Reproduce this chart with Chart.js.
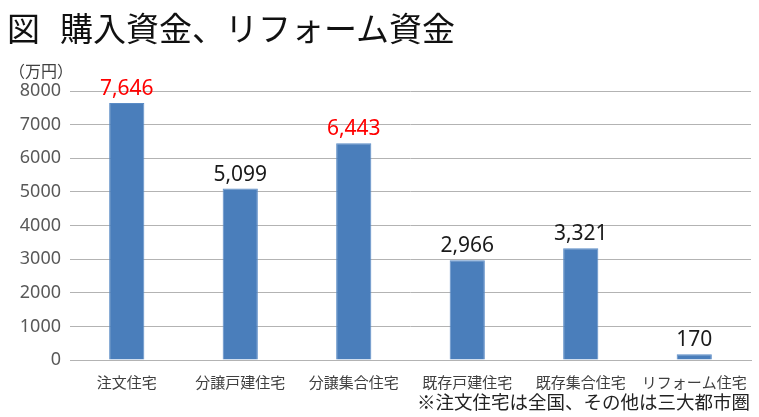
<!DOCTYPE html>
<html lang="ja">
<head>
<meta charset="UTF-8">
<title>図 購入資金、リフォーム資金</title>
<script src="https://cdn.jsdelivr.net/npm/chart.js"></script>
<style>
  html, body { margin: 0; padding: 0; background: #fff; }
  body { width: 759px; height: 417px; position: relative; overflow: hidden;
         font-family: "Noto Sans CJK JP", "Noto Sans", sans-serif; }
  #title { position: absolute; left: 7px; top: 3px; font-size: 33px; color: #111; white-space: nowrap; }
  #title .mark { margin-right: 20px; }
  #unit { position: absolute; left: 9px; top: 58px; font-size: 16px; color: #404040; }
  #note { position: absolute; right: 9px; top: 388px; font-size: 18.5px; color: #222; white-space: nowrap; }
  #wrap { position: absolute; left: 0; top: 0; width: 759px; height: 417px; }
</style>
</head>
<body>
<div id="wrap"><canvas id="chart"></canvas></div>
<div id="title"><span class="mark">図</span>購入資金、リフォーム資金</div>
<div id="unit">（万円）</div>
<div id="note">※注文住宅は全国、その他は三大都市圏</div>

<script>
    // データ
    const categories = ['注文住宅', '分譲戸建住宅', '分譲集合住宅', '既存戸建住宅', '既存集合住宅', 'リフォーム住宅'];
    const values = [7646, 5099, 6443, 2966, 3321, 170];
    const yTicks = [0, 1000, 2000, 3000, 4000, 5000, 6000, 7000, 8000];
    const redLabelCategories = ['注文住宅', '分譲集合住宅'];

    // 棒の上に数値を描く
    const valueLabels = {
        id: 'valueLabels',
        afterDatasetsDraw(chart) {
            const ctx = chart.ctx;
            const meta = chart.getDatasetMeta(0);
            ctx.save();
            ctx.font = '21px "Noto Sans", sans-serif';
            ctx.textAlign = 'center';
            ctx.textBaseline = 'alphabetic';
            meta.data.forEach((bar, i) => {
                ctx.fillStyle = redLabelCategories.includes(categories[i]) ? '#ff0000' : '#1a1a1a';
                ctx.fillText(values[i].toLocaleString('en-US'), bar.x, bar.y - 8);
            });
            ctx.restore();
        }
    };

    new Chart(document.getElementById('chart'), {
        type: 'bar',
        data: {
            labels: categories,
            datasets: [{
                data: values,
                backgroundColor: '#4a7ebb',
                borderColor: '#5b8cc6',
                borderWidth: 1,
                categoryPercentage: 1,
                barPercentage: 0.31
            }]
        },
        options: {
            responsive: true,
            maintainAspectRatio: false,
            animation: false,
            layout: { padding: { top: 91, right: 8, left: 0, bottom: 0 } },
            plugins: {
                legend: { display: false },
                tooltip: { enabled: false }
            },
            scales: {
                x: {
                    grid: { display: false },
                    border: { display: true, color: '#b3b3b3', width: 1 },
                    ticks: {
                        color: '#404040',
                        padding: 5,
                        maxRotation: 0,
                        autoSkip: false,
                        font: { family: '"Noto Sans CJK JP", sans-serif', size: 15 }
                    },
                    afterFit(scale) { scale.height = 57; }
                },
                y: {
                    min: 0,
                    max: 8000,
                    afterBuildTicks(scale) { scale.ticks = yTicks.map(v => ({ value: v })); },
                    grid: { color: '#b3b3b3', lineWidth: 1, drawTicks: false },
                    border: { display: false },
                    ticks: {
                        color: '#595959',
                        padding: 9,
                        font: { family: '"Noto Sans", sans-serif', size: 18 },
                        callback: v => String(v)
                    },
                    afterFit(scale) { scale.width = 70; }
                }
            }
        },
        plugins: [valueLabels]
    });
</script>
</body>
</html>
